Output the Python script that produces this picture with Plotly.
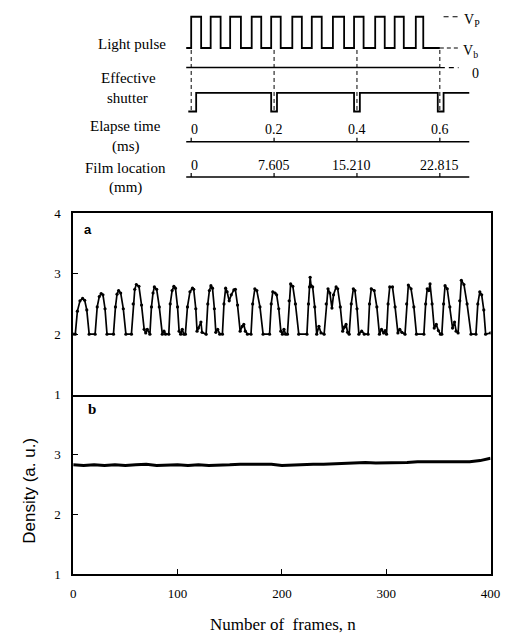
import plotly.graph_objects as go

W, H = 522, 641

# ---------------- data: panel a (with light pulses) ----------------
frames_a = [
    0, 2,
    4, 6.5, 9, 11, 13, 15.3,
    21,
    23, 25, 26.8, 28.5, 30.5, 32.4,
    38.6,
    40.5, 42, 43.5, 45.5, 48, 50.5,
    55.8,
    57.5, 59, 60.5, 63, 65.5, 68, 69.5, 71, 73.5,
    75, 76.5, 77.8, 80, 82.5, 85.4, 87, 88.5, 91.6,
    93, 94.8, 96.5, 98, 100, 101.5, 103, 104.5, 106, 107.5,
    109.5, 111.9, 114.3, 115.5, 117.5, 118.7, 120, 122.4, 123.5, 127.4,
    129, 130.5, 132, 133.5, 135.3, 136.7, 138.5, 140.5, 143,
    144.5, 146.1, 147.5, 149.5, 151.5, 154, 155.4, 157.5, 160, 162, 163.5, 165, 167, 170.4,
    172, 174.1, 176, 179, 182, 188.2,
    189.8, 191.3, 193.5, 195, 197, 199, 200.5, 202, 203.5, 205.3,
    207, 208.4, 210.5, 213, 216.2, 224,
    225.5, 226.5, 227.1, 228, 229.5, 231.5, 233.4, 235.5, 237.5, 240.5,
    242.5, 244.2, 246, 248, 249.5, 252, 253.5, 256, 258.3, 260, 261.5, 263, 264.5,
    266.5, 268.5, 270, 272, 273.8, 276.5, 279, 282.6,
    284, 285.7, 288.5, 291, 293.5, 295.5, 297.5, 299, 300.3,
    301.8, 303.4, 306, 308.5, 311.2, 313, 315, 318,
    319.6, 321.2, 323.8, 326.5, 329, 336.1,
    337.8, 339.3, 340.8, 342, 344, 346, 348, 350, 352, 353.3,
    355, 356.4, 358.5, 361, 363.6, 365.5, 367, 368.9,
    370.5, 372, 374.5, 377.5, 381.3, 386,
    387.8, 389.7, 391.5, 393.5, 395.3, 400,
]
density_a = [
    2.0, 2.0,
    2.38, 2.55, 2.59, 2.56, 2.4, 2.0,
    2.0,
    2.45, 2.62, 2.67, 2.65, 2.42, 2.0,
    2.0,
    2.45, 2.66, 2.72, 2.68, 2.42, 2.0,
    2.0,
    2.5, 2.74, 2.82, 2.79, 2.48, 2.08, 2.02, 2.08, 2.0,
    2.45, 2.68, 2.78, 2.74, 2.45, 2.0, 2.05, 2.0, 2.0,
    2.5, 2.72, 2.79, 2.76, 2.45, 2.05, 2.0, 2.08, 2.0, 2.0,
    2.45, 2.7, 2.76, 2.74, 2.42, 2.05, 2.1, 2.2, 2.03, 2.0,
    2.5, 2.72, 2.8, 2.76, 2.42, 2.03, 2.08, 2.0, 2.0,
    2.5, 2.76, 2.7, 2.55, 2.65, 2.73, 2.74, 2.48, 2.05, 2.13, 2.16, 2.05, 2.0, 2.0,
    2.5, 2.75, 2.72, 2.45, 2.0, 2.0,
    2.5, 2.7, 2.68, 2.65, 2.42, 2.05, 2.0, 2.08, 2.0, 2.0,
    2.55, 2.83, 2.79, 2.5, 2.0, 2.0,
    2.5, 2.78, 2.94, 2.8, 2.78, 2.45, 2.0, 2.13, 2.02, 2.0,
    2.5, 2.75, 2.68, 2.43, 2.65, 2.78, 2.75, 2.45, 2.05, 2.12, 2.16, 2.03, 2.0,
    2.5, 2.75, 2.72, 2.42, 2.0, 2.05, 2.0, 2.0,
    2.5, 2.75, 2.72, 2.45, 2.0, 2.08, 2.02, 2.06, 2.0,
    2.5, 2.78, 2.78, 2.45, 2.02, 2.08, 2.03, 2.0,
    2.5, 2.81, 2.75, 2.45, 2.0, 2.0,
    2.5, 2.75, 2.72, 2.83, 2.5, 2.1, 2.16, 2.06, 2.0, 2.0,
    2.5, 2.8, 2.75, 2.45, 2.1, 2.2, 2.05, 2.02,
    2.55, 2.89, 2.82, 2.5, 2.0, 2.0,
    2.5, 2.7, 2.65, 2.4, 2.0, 2.02,
]
assert len(frames_a) == len(density_a)

# ---------------- data: panel b (no light pulses) ----------------
frames_b = [0, 10, 20, 30, 40, 50, 60, 70, 80, 90, 100, 110, 120, 130, 140,
            150, 160, 170, 180, 190, 200, 210, 220, 230, 240, 250, 260, 270,
            280, 290, 300, 310, 320, 330, 340, 350, 360, 370, 380, 390, 395, 400]
density_b = [2.83, 2.82, 2.83, 2.82, 2.83, 2.82, 2.83, 2.84, 2.82, 2.83, 2.83,
             2.82, 2.83, 2.82, 2.82, 2.83, 2.84, 2.84, 2.83, 2.84, 2.82, 2.83,
             2.83, 2.84, 2.84, 2.85, 2.86, 2.86, 2.87, 2.86, 2.86, 2.87, 2.87,
             2.88, 2.88, 2.89, 2.89, 2.89, 2.88, 2.90, 2.92, 2.94]

x_tick_vals = [0, 100, 200, 300, 400]
x_tick_text = ["0", "100", "200", "300", "400"]
ya_tick_vals = [1, 2, 3, 4]
yb_tick_vals = [1, 2, 3]

# ---------------- data: timing schematic (ms) ----------------
pulse_rise_ms = [0.0, 0.047, 0.094, 0.146, 0.193, 0.244, 0.291, 0.342, 0.393, 0.444, 0.491, 0.542]
pulse_fall_ms = [0.024, 0.071, 0.120, 0.169, 0.216, 0.267, 0.315, 0.369, 0.416, 0.467, 0.513, 0.560]
pulse_start_ms, pulse_end_ms = -0.012, 0.600
shutter_open_ms = [0.012, 0.207, 0.407, 0.609]
shutter_close_ms = [0.193, 0.393, 0.595]
shutter_start_ms, shutter_end_ms = -0.007, 0.671
axis_start_ms, axis_end_ms = -0.012, 0.671
elapse_ticks_ms = [0.0, 0.2, 0.4, 0.6]
elapse_labels = ["0", "0.2", "0.4", "0.6"]
film_labels = ["0", "7.605", "15.210", "22.815"]

# schematic row levels (pixel rows of the page)
Y_VP, Y_VB, Y_ZERO = 10, 42, 62
Y_SH_HI, Y_SH_LO = 88, 107
Y_ELAPSE, Y_FILM = 138, 174

PX_PER_MS = 425.0
T0_PX = 193.0

SERIF = "Liberation Serif, Times New Roman, serif"
SANS = "Liberation Sans, Arial, sans-serif"


def px(x):
    return x / W


def py(y):
    return 1 - y / H


fig = go.Figure()

# main data traces
fig.add_trace(go.Scatter(x=frames_a, y=density_a, xaxis="x2", yaxis="y2",
                         mode="lines+markers",
                         line=dict(color="black", width=1.7),
                         marker=dict(color="black", size=3.2)))
fig.add_trace(go.Scatter(x=frames_b, y=density_b, xaxis="x", yaxis="y",
                         mode="lines", line=dict(color="black", width=3)))

# --- schematic: light pulse
lx, ly = [pulse_start_ms], [Y_VB]
for r, f in zip(pulse_rise_ms, pulse_fall_ms):
    lx += [r, r, f, f]
    ly += [Y_VB, Y_VP, Y_VP, Y_VB]
lx.append(pulse_end_ms)
ly.append(Y_VB)
fig.add_trace(go.Scatter(x=lx, y=ly, xaxis="x3", yaxis="y3", mode="lines",
                         line=dict(color="black", width=1.8), cliponaxis=False))
# V_b and V_p dashed extensions
fig.add_trace(go.Scatter(x=[pulse_end_ms, 0.645], y=[Y_VB, Y_VB], xaxis="x3", yaxis="y3",
                         mode="lines", line=dict(color="black", width=1.2, dash="4px,3px")))
fig.add_trace(go.Scatter(x=[0.609, 0.647], y=[Y_VP, Y_VP], xaxis="x3", yaxis="y3",
                         mode="lines", line=dict(color="black", width=1.2, dash="5px,4px")))
# zero line
fig.add_trace(go.Scatter(x=[axis_start_ms, 0.6], y=[Y_ZERO, Y_ZERO], xaxis="x3", yaxis="y3",
                         mode="lines", line=dict(color="black", width=1.5)))
fig.add_trace(go.Scatter(x=[0.6, 0.645], y=[Y_ZERO, Y_ZERO], xaxis="x3", yaxis="y3",
                         mode="lines", line=dict(color="black", width=1.2, dash="5px,4px")))

# --- schematic: effective shutter
sx, sy = [shutter_start_ms, shutter_open_ms[0], shutter_open_ms[0]], [Y_SH_LO, Y_SH_LO, Y_SH_HI]
for c, o in zip(shutter_close_ms, shutter_open_ms[1:]):
    sx += [c, c, o, o]
    sy += [Y_SH_HI, Y_SH_LO, Y_SH_LO, Y_SH_HI]
sx.append(shutter_end_ms)
sy.append(Y_SH_HI)
fig.add_trace(go.Scatter(x=sx, y=sy, xaxis="x3", yaxis="y3", mode="lines",
                         line=dict(color="black", width=1.8)))

# dashed vertical guides
vx, vy = [], []
for t in elapse_ticks_ms:
    vx += [t, t, None]
    vy += [Y_VB + 2, Y_SH_LO, None]
fig.add_trace(go.Scatter(x=vx, y=vy, xaxis="x3", yaxis="y3", mode="lines",
                         line=dict(color="black", width=1, dash="4px,3px")))

# elapse time & film location axes
for yl in [Y_ELAPSE, Y_FILM]:
    fig.add_trace(go.Scatter(x=[axis_start_ms, axis_end_ms], y=[yl, yl], xaxis="x3", yaxis="y3",
                             mode="lines", line=dict(color="black", width=1.5)))
    tx, ty = [], []
    for t in elapse_ticks_ms:
        tx += [t, t, None]
        ty += [yl - 4, yl, None]
    fig.add_trace(go.Scatter(x=tx, y=ty, xaxis="x3", yaxis="y3", mode="lines",
                             line=dict(color="black", width=1.2)))

annotations = []


def note(text, x, y, size=15, family=SERIF, xref="paper", yref="paper", **kw):
    annotations.append(dict(text=text, x=x, y=y, xref=xref, yref=yref, showarrow=False,
                            font=dict(family=family, size=size, color="black"),
                            xanchor=kw.pop("xanchor", "center"),
                            yanchor=kw.pop("yanchor", "middle"), **kw))


# schematic labels (left)
note("Light pulse", px(132), py(38))
note("Effective", px(129), py(73))
note("shutter", px(128), py(93))
note("Elapse time", px(126), py(122))
note("(ms)", px(126), py(143))
note("Film location", px(126), py(165))
note("(mm)", px(126), py(185))
# right labels
note("V<sub>P</sub>", px(471), py(14), size=14, xanchor="left")
note("V<sub>b</sub>", px(470), py(46), size=14, xanchor="left")
note("0", px(485), py(68), size=14)
# axis tick labels of schematic
for t, lab in zip(elapse_ticks_ms, elapse_labels):
    note(lab, t, Y_ELAPSE - 13, size=14, xref="x3", yref="y3",
         xshift=3 if lab == "0" else 0)
film_shift = [3, 0, -5, 0]
for t, lab, sh in zip(elapse_ticks_ms, film_labels, film_shift):
    note(lab, t, Y_FILM - 12, size=14, xref="x3", yref="y3", xshift=sh)

# main chart labels
note("Number of  frames, n", px(287), py(632), size=17)
note("Density (a. u.)", px(27), py(495), size=17, family=SANS, textangle=-90)
note("<b>a</b>", px(87), py(228), size=13, family=SANS)
note("<b>b</b>", px(91), py(412), size=15)

axis_common = dict(showline=True, linecolor="black", linewidth=1.5,
                   showgrid=False, zeroline=False, ticks="inside", tickcolor="black",
                   tickwidth=1.2)
tickfont = dict(family=SERIF, size=13, color="black")

x_dom = [72 / W, 500 / W]
fig.update_layout(
    width=W, height=H, autosize=False,
    margin=dict(l=0, r=0, t=0, b=0),
    paper_bgcolor="white", plot_bgcolor="rgba(0,0,0,0)",
    showlegend=False,
    annotations=annotations,
    xaxis=dict(domain=x_dom, anchor="y", range=[0, 400], tickvals=x_tick_vals,
               ticktext=x_tick_text, ticklen=6, tickfont=tickfont, mirror=False,
               ticklabelstandoff=6, **axis_common),
    yaxis=dict(domain=[60 / H, 244 / H], anchor="x", range=[1, 4], tickvals=yb_tick_vals,
               ticklen=5, tickfont=tickfont, ticklabelstandoff=8, mirror=True, **axis_common),
    xaxis2=dict(domain=x_dom, anchor="y2", range=[0, 400], showticklabels=False,
                showline=True, mirror=True, linecolor="black", linewidth=1.5,
                showgrid=False, zeroline=False, ticks=""),
    yaxis2=dict(domain=[244 / H, 430 / H], anchor="x2", range=[1, 4], tickvals=ya_tick_vals,
                ticklen=5, tickfont=tickfont, ticklabelstandoff=8, mirror=True, **axis_common),
    xaxis3=dict(domain=[0, 1], anchor="y3", range=[-T0_PX / PX_PER_MS, (W - T0_PX) / PX_PER_MS],
                visible=False, fixedrange=True),
    yaxis3=dict(domain=[0, 1], anchor="x3", range=[H, 0], visible=False, fixedrange=True),
)

fig.write_html(
    "out.html",
    config={"displayModeBar": False},
    post_script="document.body.style.margin='0';document.body.style.overflow='hidden';",
)
